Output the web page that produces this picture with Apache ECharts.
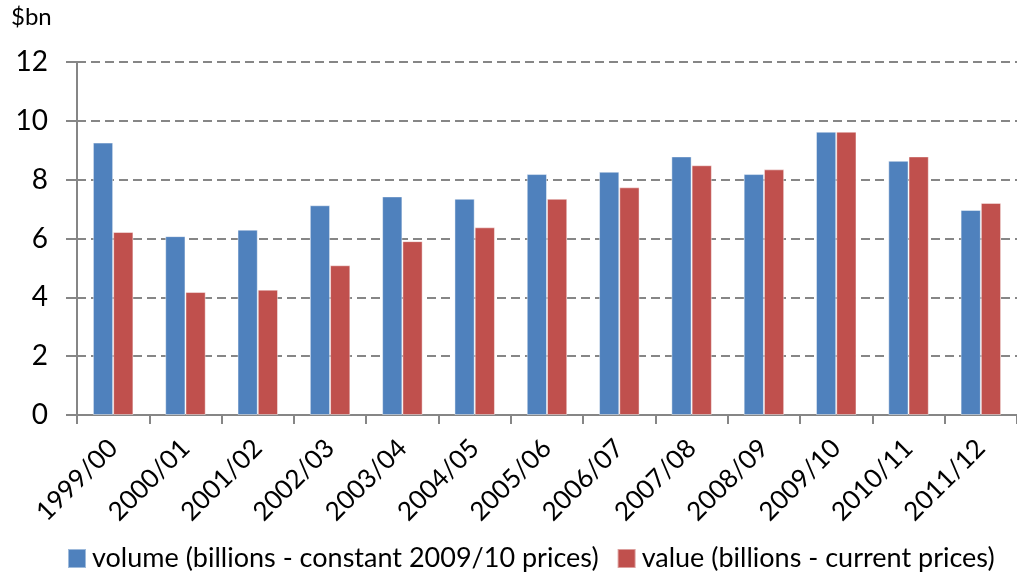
<!DOCTYPE html>
<html>
<head>
<meta charset="utf-8">
<script src="https://cdn.jsdelivr.net/npm/echarts@6/dist/echarts.min.js"></script>
<style>html,body{margin:0;padding:0;background:#fff}#c{width:1017px;height:576px}</style>
</head>
<body>
<div id="c"></div>
<script>
const categories = ['1999/00','2000/01','2001/02','2002/03','2003/04','2004/05','2005/06','2006/07','2007/08','2008/09','2009/10','2010/11','2011/12'];
const volumeValues = [9.26, 6.08, 6.30, 7.13, 7.43, 7.35, 8.19, 8.27, 8.79, 8.19, 9.63, 8.64, 6.97];
const valueValues = [6.22, 4.18, 4.26, 5.09, 5.91, 6.38, 7.35, 7.74, 8.49, 8.35, 9.63, 8.79, 7.21];
const yTicks = [0, 2, 4, 6, 8, 10, 12];
const seriesNames = ['volume (billions - constant 2009/10 prices)', 'value (billions - current prices)'];

const FONT = 'Lato, "Open Sans", sans-serif';
const chart = echarts.init(document.getElementById('c'), null, {renderer: 'canvas'});
chart.setOption({
  animation: false,
  backgroundColor: '#ffffff',
  textStyle: {fontFamily: FONT, color: '#000'},
  graphic: [{
    type: 'text', left: 11, top: 5,
    style: {text: '$bn', font: '24px ' + FONT, fill: '#000'}
  }],
  legend: {
    top: 540, left: 62,
    itemWidth: 18, itemHeight: 19, itemGap: 18,
    icon: 'rect',
    textStyle: {fontSize: 27, fontFamily: FONT, color: '#000', padding: [0, 0, 0, 1]},
    data: seriesNames
  },
  grid: {left: 77, top: 62, width: 955.5, height: 353, containLabel: false},
  xAxis: {
    type: 'category',
    data: categories,
    boundaryGap: true,
    axisLine: {lineStyle: {color: '#868686', width: 2}},
    axisTick: {show: true, alignWithLabel: false, length: 9, lineStyle: {color: '#868686', width: 2}},
    axisLabel: {rotate: 45, fontSize: 26, fontFamily: FONT, color: '#000', margin: 29, interval: 0}
  },
  yAxis: {
    type: 'value',
    min: yTicks[0], max: yTicks[yTicks.length - 1], interval: 2,
    axisLine: {show: true, lineStyle: {color: '#868686', width: 2}},
    axisTick: {show: true, length: 11, lineStyle: {color: '#868686', width: 2}},
    axisLabel: {fontSize: 28, fontFamily: FONT, color: '#000', margin: 29},
    splitLine: {show: true, lineStyle: {color: '#868686', width: 2, type: [9, 5]}}
  },
  series: [
    {
      name: seriesNames[0], type: 'bar', data: volumeValues,
      barGap: '0%', barCategoryGap: '44%',
      itemStyle: {color: '#4F81BD', borderColor: 'rgba(255,255,255,0.45)', borderWidth: 1}
    },
    {
      name: seriesNames[1], type: 'bar', data: valueValues,
      barGap: '0%', barCategoryGap: '44%',
      itemStyle: {color: '#C0504D', borderColor: 'rgba(255,255,255,0.45)', borderWidth: 1}
    }
  ]
});
</script>
</body>
</html>
